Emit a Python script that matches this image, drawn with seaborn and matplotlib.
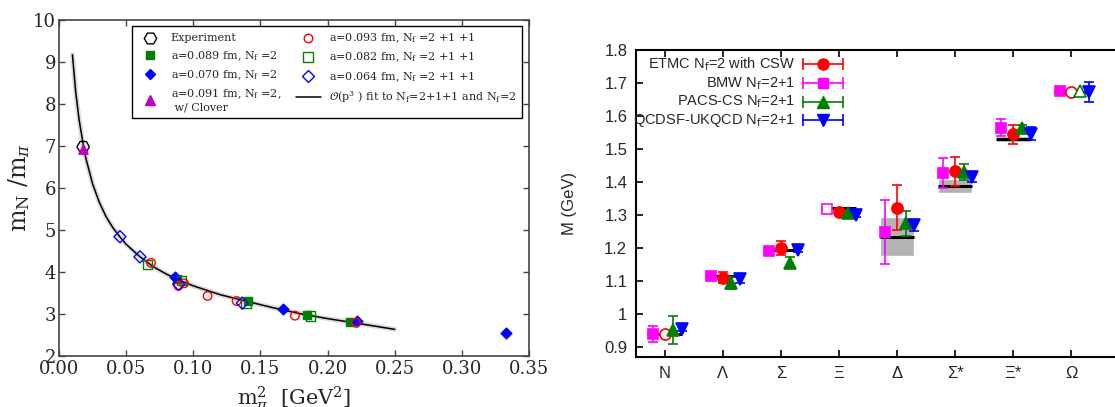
import numpy as np
import pandas as pd
import matplotlib
matplotlib.use("Agg")
import matplotlib.pyplot as plt
from matplotlib.lines import Line2D
import seaborn as sns

sns.set_theme(style="ticks")
plt.rcParams['font.family'] = ['DejaVu Serif']
plt.rcParams['mathtext.fontset'] = 'dejavuserif'

# ---- left panel: m_N/m_pi vs m_pi^2 ----
exp_x = [0.0180]
exp_y = [6.98]
nf2_089_x = [0.0876, 0.1405, 0.1844, 0.2167]
nf2_089_y = [3.83, 3.31, 2.98, 2.80]
nf2_070_x = [0.0864, 0.1668, 0.2217, 0.3331]
nf2_070_y = [3.89, 3.11, 2.84, 2.54]
clover_x = [0.0180]
clover_y = [6.92]
nf4_093_x = [0.0685, 0.0889, 0.0931, 0.1107, 0.1323, 0.1757, 0.2212]
nf4_093_y = [4.22, 3.67, 3.73, 3.43, 3.31, 2.96, 2.79]
nf4_082_x = [0.0658, 0.0913, 0.1393, 0.1874]
nf4_082_y = [4.18, 3.79, 3.25, 2.95]
nf4_064_x = [0.0454, 0.0603, 0.0891, 0.1365]
nf4_064_y = [4.84, 4.36, 3.71, 3.26]

# fit curve
fit_x = [0.010, 0.0125, 0.015, 0.0183, 0.020, 0.025, 0.030, 0.035, 0.040, 0.045,
         0.050, 0.060, 0.070, 0.080, 0.090, 0.100, 0.120, 0.140, 0.160, 0.180,
         0.200, 0.220, 0.250]
fit_y = [9.17, 8.27, 7.62, 6.98, 6.71, 6.10, 5.66, 5.32, 5.06, 4.85,
         4.66, 4.37, 4.13, 3.95, 3.80, 3.67, 3.46, 3.30, 3.145, 3.005,
         2.89, 2.79, 2.635]

# ---- right panel: baryon spectrum ----
baryons = ['N', 'Λ', 'Σ', 'Ξ', 'Δ', 'Σ*', 'Ξ*', 'Ω']
exp_mass = [0.938, 1.116, 1.193, 1.320, 1.233, 1.387, 1.530, 1.672]
res_idx = [4, 5, 6]
res_lo = [1.175, 1.366, 1.520]
res_hi = [1.2935, 1.4075, 1.538]

etmc_m = [0.938, 1.110, 1.200, 1.310, 1.322, 1.432, 1.544, 1.672]
etmc_err = [0.0, 0.017, 0.022, 0.008, 0.068, 0.044, 0.028, 0.0]
etmc_open = [0, 7]
bmw_m = [0.938, 1.114, 1.190, 1.319, 1.248, 1.428, 1.564, 1.676]
bmw_err = [0.024, 0.010, 0.012, 0.008, 0.098, 0.045, 0.026, 0.012]
bmw_open = [3]
pacs_m = [0.952, 1.094, 1.155, 1.306, 1.275, 1.430, 1.564, 1.675]
pacs_err = [0.042, 0.019, 0.017, 0.007, 0.038, 0.023, 0.008, 0.0]
pacs_open = [7]
qcd_m = [0.955, 1.107, 1.193, 1.300, 1.268, 1.415, 1.546, 1.672]
qcd_err = [0.008, 0.015, 0.007, 0.007, 0.018, 0.014, 0.020, 0.031]
qcd_open = []

fig = plt.figure(figsize=(11.15, 4.07), dpi=100)
ax1 = fig.add_axes([59 / 1115, 51 / 407, 470 / 1115, 336 / 407])
ax2 = fig.add_axes([635.7 / 1115, 50.3 / 407, 493.5 / 1115, 306.7 / 407])

# left panel
sns.lineplot(x=fit_x, y=fit_y, ax=ax1, color='0.85', lw=3.5, zorder=1)
sns.lineplot(x=fit_x, y=fit_y, ax=ax1, color='black', lw=1.1, zorder=2)

series = [
    (exp_x, exp_y, 'H', 80, 'black', True, 'Experiment'),
    (nf2_089_x, nf2_089_y, 's', 40, '#008000', False, r'a=0.089 fm, N$_\mathrm{f}$ =2'),
    (nf2_070_x, nf2_070_y, 'D', 30, '#0000ff', False, r'a=0.070 fm, N$_\mathrm{f}$ =2'),
    (clover_x, clover_y, '^', 45, '#bf00bf', False, 'a=0.091 fm, N$_\\mathrm{f}$ =2,\n w/ Clover'),
    (nf4_093_x, nf4_093_y, 'o', 38, '#ff0000', True, r'a=0.093 fm, N$_\mathrm{f}$ =2 +1 +1'),
    (nf4_082_x, nf4_082_y, 's', 45, '#008000', True, r'a=0.082 fm, N$_\mathrm{f}$ =2 +1 +1'),
    (nf4_064_x, nf4_064_y, 'D', 38, '#0000ff', True, r'a=0.064 fm, N$_\mathrm{f}$ =2 +1 +1'),
]
handles = []
labels = []
draw_order = [1, 2, 5, 4, 6, 0, 3]
for i in draw_order:
    x, y, mk, s, col, hollow, lab = series[i]
    fc = 'none' if hollow else col
    sns.scatterplot(x=x, y=y, ax=ax1, marker=mk, s=s, facecolor=fc, edgecolor=col,
                    linewidth=1.0, zorder=3)
for x, y, mk, s, col, hollow, lab in series:
    handles.append(Line2D([], [], ls='none', marker=mk, ms=np.sqrt(s),
                          mfc='none' if hollow else col, mec=col, mew=1.0))
    labels.append(lab)
handles.append(Line2D([], [], color='black', lw=1.1))
labels.append(r'$\mathcal{O}$(p$^3$ ) fit to N$_\mathrm{f}$=2+1+1 and N$_\mathrm{f}$=2')

leg = ax1.legend(handles, labels, ncol=2, loc='upper right', bbox_to_anchor=(0.985, 0.982),
                 borderaxespad=0, fontsize=8, frameon=True, fancybox=False,
                 edgecolor='black', framealpha=1, handlelength=2.3, handletextpad=0.7,
                 columnspacing=1.3, labelspacing=0.5, borderpad=0.5)
leg.get_frame().set_linewidth(1.0)

ax1.set_xlim(0, 0.35)
ax1.set_ylim(2, 10)
ax1.set_xticks(np.arange(0, 0.351, 0.05))
ax1.set_xticklabels([f"{v:.2f}" for v in np.arange(0, 0.351, 0.05)])
ax1.set_yticks(range(2, 11))
ax1.tick_params(direction='in', top=True, right=True, length=4, width=1,
                labelsize=13, color='#444444')
ax1.tick_params(axis='x', pad=3)
ax1.tick_params(axis='y', pad=2)
for sp in ax1.spines.values():
    sp.set_color('#444444')
    sp.set_linewidth(1.2)
ax1.set_xlabel(r'$\mathrm{m}_\pi^2$  [GeV$^2$]', fontsize=15)
ax1.set_ylabel(r'$\mathrm{m_N}$ /$\mathrm{m}_\pi$', fontsize=17)
ax1.xaxis.set_label_coords(0.5, -0.085)
ax1.yaxis.set_label_coords(-0.058, 0.5)

# right panel
xs = np.arange(len(baryons))
ax2.bar([xs[i] for i in res_idx], [h - l for l, h in zip(res_lo, res_hi)], bottom=res_lo,
        width=0.6, color='#b3b3b3', zorder=0)
ax2.hlines(exp_mass, xs - 0.3, xs + 0.3, color='black', lw=2.2, zorder=1)

collabs = [
    (bmw_m, bmw_err, bmw_open, -0.2, 's', '#ff00ff', 7.5, r'BMW N$_\mathsf{f}$=2+1'),
    (etmc_m, etmc_err, etmc_open, 0.0, 'o', '#ff0000', 8, r'ETMC N$_\mathsf{f}$=2 with CSW'),
    (pacs_m, pacs_err, pacs_open, 0.15, '^', '#008000', 8, r'PACS-CS N$_\mathsf{f}$=2+1'),
    (qcd_m, qcd_err, qcd_open, 0.3, 'v', '#0000ff', 8, r'QCDSF-UKQCD N$_\mathsf{f}$=2+1'),
]
for m, err, opn, off, mk, col, ms, lab in collabs:
    for i in range(len(baryons)):
        hollow = i in opn
        ax2.errorbar(xs[i] + off, m[i], yerr=err[i] if err[i] > 0 else None,
                     fmt=mk, color=col, ms=ms, mfc='white' if hollow else col,
                     mec=col, mew=1.2, elinewidth=1.2, capsize=3.5, capthick=1.2, zorder=3)

# legend drawn gnuplot-style: right-aligned text, sample with horizontal bar
leg_order = [1, 0, 2, 3]
leg_y = [0.953, 0.891, 0.831, 0.771]
for k, idx in enumerate(leg_order):
    m, err, opn, off, mk, col, ms, lab = collabs[idx]
    y = leg_y[k]
    ax2.text(0.3228, y, lab, transform=ax2.transAxes, ha='right', va='center',
             fontsize=10.5, family='Liberation Sans')
    ax2.plot([0.339, 0.4205], [y, y], transform=ax2.transAxes, color=col, lw=1.2,
             marker='|', ms=8, mew=1.2, clip_on=False)
    ax2.plot([0.3795], [y], transform=ax2.transAxes, marker=mk, color=col, ms=ms,
             ls='none', clip_on=False)

ax2.set_xlim(-0.5, 8.0)
ax2.set_ylim(0.87, 1.8)
ax2.set_xticks(xs)
ax2.set_xticklabels(baryons, family='Liberation Sans', fontsize=12)
yt = np.round(np.arange(0.9, 1.801, 0.1), 1)
ax2.set_yticks(yt)
ax2.set_yticklabels([f"{v:g}" for v in yt], family='Liberation Sans', fontsize=12)
ax2.tick_params(direction='in', top=True, right=False, length=5, width=1.2, color='black')
ax2.tick_params(axis='x', pad=7)
ax2.tick_params(axis='y', pad=6)
for sp in ax2.spines.values():
    sp.set_color('black')
    sp.set_linewidth(1.5)
ax2.set_ylabel('M (GeV)', family='Liberation Sans', fontsize=12)
ax2.yaxis.set_label_coords(-0.119, 0.5)

fig.savefig('out.png', dpi=100)
